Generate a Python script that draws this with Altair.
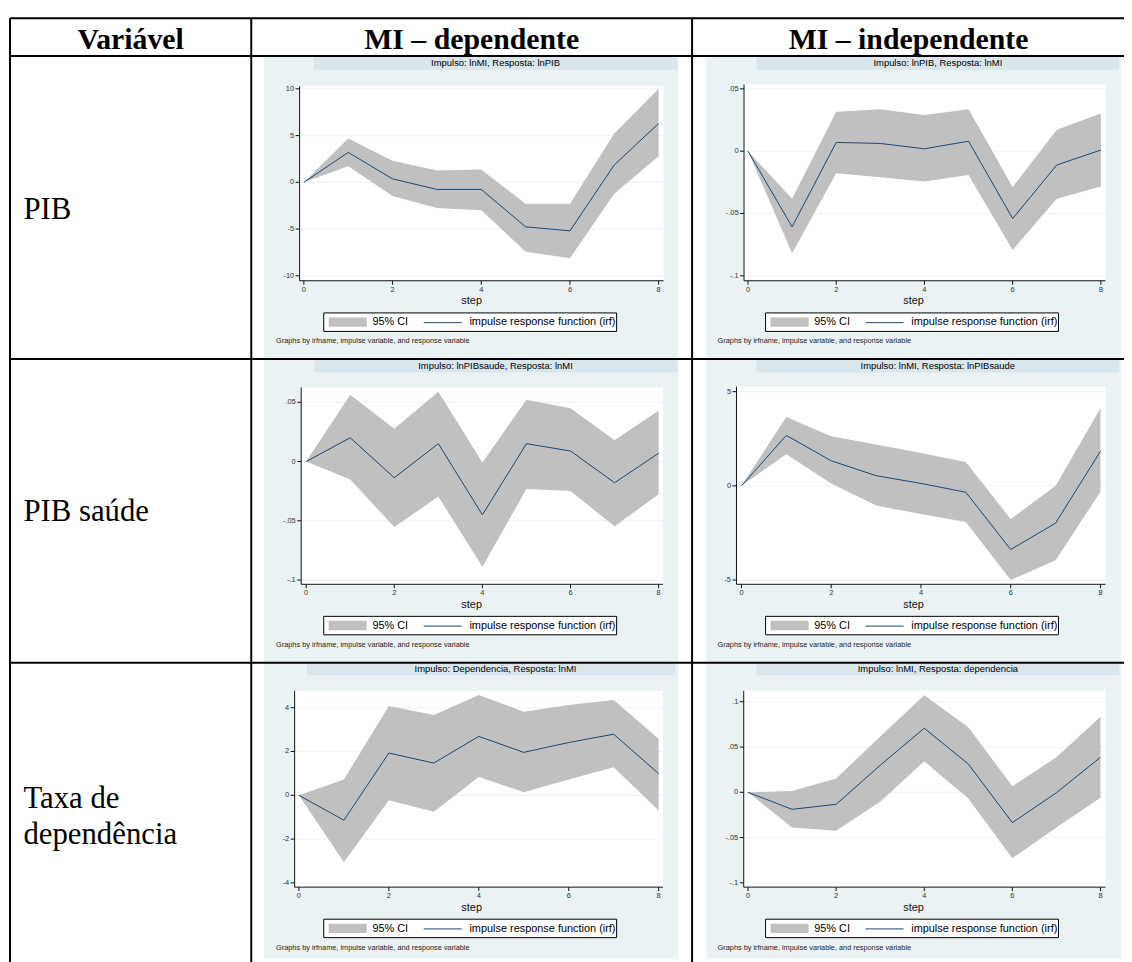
import altair as alt
import pandas as pd

# ---------------- data ----------------
STEPS = [0, 1, 2, 3, 4, 5, 6, 7, 8]

HEADERS = ["Variável", "MI – dependente", "MI – independente"]
ROW_LABELS = [["PIB"], ["PIB saúde"], ["Taxa de", "dependência"]]

TITLES = [
    "Impulso: lnMI, Resposta: lnPIB",
    "Impulso: lnPIB, Resposta: lnMI",
    "Impulso: lnPIBsaude, Resposta: lnMI",
    "Impulso: lnMI, Resposta: lnPIBsaude",
    "Impulso: Dependencia, Resposta: lnMI",
    "Impulso: lnMI, Resposta: dependencia",
]

# panel 1: lnMI -> lnPIB
P1_IRF = [0, 3.2, 0.37, -0.76, -0.76, -4.76, -5.19, 1.86, 6.3]
P1_HI = [0, 4.69, 2.32, 1.26, 1.36, -2.28, -2.28, 5.22, 10.0]
P1_LO = [0, 1.72, -1.47, -2.74, -2.99, -7.42, -8.12, -1.22, 2.78]
P1_TICKS = [-10, -5, 0, 5, 10]
P1_TICK_LABELS = ["-10", "-5", "0", "5", "10"]
# panel 2: lnPIB -> lnMI
P2_IRF = [0, -0.0607, 0.0070, 0.0062, 0.0019, 0.0080, -0.0541, -0.0111, 0.0009]
P2_HI = [0, -0.0382, 0.0317, 0.0336, 0.029, 0.0336, -0.0288, 0.0171, 0.0303]
P2_LO = [0, -0.082, -0.0177, -0.021, -0.0244, -0.0191, -0.0793, -0.0382, -0.0284]
P2_TICKS = [-0.1, -0.05, 0, 0.05]
P2_TICK_LABELS = ["-.1", "-.05", "0", ".05"]
# panel 3: lnPIBsaude -> lnMI
P3_IRF = [0, 0.0201, -0.0137, 0.0151, -0.045, 0.0151, 0.0089, -0.0179, 0.007]
P3_HI = [0, 0.0564, 0.0277, 0.0589, -0.0008, 0.0522, 0.045, 0.0179, 0.043]
P3_LO = [0, -0.0151, -0.0553, -0.0296, -0.0888, -0.0232, -0.0249, -0.0547, -0.0277]
P3_TICKS = [-0.1, -0.05, 0, 0.05]
P3_TICK_LABELS = ["-.1", "-.05", "0", ".05"]
# panel 4: lnMI -> lnPIBsaude
P4_IRF = [0, 2.68, 1.33, 0.54, 0.13, -0.34, -3.38, -1.98, 1.84]
P4_HI = [0, 3.65, 2.63, 2.19, 1.75, 1.27, -1.77, 0.01, 4.12]
P4_LO = [0, 1.68, 0.13, -1.05, -1.50, -1.92, -5.0, -3.95, -0.31]
P4_TICKS = [-5, 0, 5]
P4_TICK_LABELS = ["-5", "0", "5"]
# panel 5: Dependencia -> lnMI
P5_IRF = [0, -1.14, 1.93, 1.47, 2.69, 1.96, 2.41, 2.79, 0.99]
P5_HI = [0, 0.72, 4.08, 3.67, 4.58, 3.82, 4.12, 4.35, 2.58]
P5_LO = [0, -3.06, -0.23, -0.75, 0.84, 0.14, 0.72, 1.28, -0.69]
P5_TICKS = [-4, -2, 0, 2, 4]
P5_TICK_LABELS = ["-4", "-2", "0", "2", "4"]
# panel 6: lnMI -> dependencia
P6_IRF = [0, -0.0188, -0.0133, 0.0298, 0.0708, 0.0313, -0.0335, -0.0005, 0.0386]
P6_HI = [0, 0.0013, 0.0152, 0.0616, 0.1073, 0.0718, 0.0068, 0.0386, 0.0835]
P6_LO = [0, -0.0389, -0.0426, -0.0104, 0.0342, -0.0068, -0.0729, -0.0389, -0.006]
P6_TICKS = [-0.1, -0.05, 0, 0.05, 0.1]
P6_TICK_LABELS = ["-.1", "-.05", "0", ".05", ".1"]

X_TICKS = [0, 2, 4, 6, 8]
X_TICK_LABELS = ["0", "2", "4", "6", "8"]
X_TITLE = "step"
LEGEND_LABELS = ["95% CI", "impulse response function (irf)"]
NOTE = "Graphs by irfname, impulse variable, and response variable"

# ---------------- layout (page pixels) ----------------
W, H = 1124, 954
OFF = 8  # page margin


def v(p):
    return p - OFF


SANS = "Liberation Sans"
SERIF = "Liberation Serif"
BG = "#EAF2F3"
BAND = "#D9E6EB"
CI = "#C0C0C0"
NAVY = "#1A476F"
AXIS_C = "#111111"
LABEL_C = "#333333"

COL_BG = [(266, 683.3), (711, 1129)]
ROW_BG = [(54, 357), (359, 663), (665, 962)]
BANDS = {
    (0, 0): (316, 682, 54, 66.7), (0, 1): (762, 1127, 54, 66.7),
    (1, 0): (316.7, 682, 359, 371.7), (1, 1): (761.7, 1127.3, 359, 371.7),
    (2, 0): (309.3, 680, 665, 676.7), (2, 1): (761.7, 1127.3, 665, 676.7),
}
TITLE_X = [499, 944.5]
TITLE_Y = [59.5, 365, 670.7]
LEG_X = [326, 771]
LEG_Y = [311.7, 617.3, 922.3]
NOTE_X = [278, 722.7]
NOTE_Y = [340, 646, 951]
STEP_X = [475, 920]
STEP_Y = [300, 605.7, 910.7]
TICK_LEN = 4

# panel geometry: (x px of step 0, x px of step 8, (px, val), (px, val), (left, right, top, bottom))
PANELS = [
    (0, 0, P1_IRF, P1_HI, P1_LO, P1_TICKS, P1_TICK_LABELS, 306, 663.3, (86, 10), (274.3, -10), (301.7, 668.3, 83.3, 279.3)),
    (0, 1, P2_IRF, P2_HI, P2_LO, P2_TICKS, P2_TICK_LABELS, 753.3, 1108.7, (86, 0.05), (274.3, -0.1), (749.3, 1113.3, 81.7, 279.3)),
    (1, 0, P3_IRF, P3_HI, P3_LO, P3_TICKS, P3_TICK_LABELS, 308.3, 663.3, (401.7, 0.05), (580.7, -0.1), (303.3, 667.7, 386.7, 585)),
    (1, 1, P4_IRF, P4_HI, P4_LO, P4_TICKS, P4_TICK_LABELS, 746.7, 1108.3, (391, 5), (580.7, -5), (741.7, 1113.3, 386, 585)),
    (2, 0, P5_IRF, P5_HI, P5_LO, P5_TICKS, P5_TICK_LABELS, 301, 663.3, (709.3, 4), (885.7, -4), (296.7, 667.7, 692.3, 890)),
    (2, 1, P6_IRF, P6_HI, P6_LO, P6_TICKS, P6_TICK_LABELS, 753.3, 1108.3, (703.3, 0.1), (885.7, -0.1), (749, 1113.3, 692.3, 890)),
]

NX = dict(scale=None, axis=None)

# ---------------- decorations ----------------
bg_rows = []
for (x0, x1) in COL_BG:
    for (y0, y1) in ROW_BG:
        bg_rows.append(dict(x=v(x0), x2=v(x1), y=v(y0), y2=v(y1), fill=BG))
for (r, c), (x0, x1, y0, y1) in BANDS.items():
    bg_rows.append(dict(x=v(x0), x2=v(x1), y=v(y0), y2=v(y1), fill=BAND))
bg_df = pd.DataFrame(bg_rows)


def rect_layer(df, **mark):
    return alt.Chart(df).mark_rect(**mark).encode(
        x=alt.X("x:Q", **NX), x2="x2:Q",
        y=alt.Y("y:Q", **NX), y2="y2:Q",
    )


bg_layer = alt.Chart(bg_df).mark_rect().encode(
    x=alt.X("x:Q", **NX), x2="x2:Q",
    y=alt.Y("y:Q", **NX), y2="y2:Q",
    fill=alt.Fill("fill:N", scale=None),
)

box_rows, sw_rows, ls_rows, lt_rows = [], [], [], []
title_rows, note_rows, step_rows = [], [], []
for r in range(3):
    for c in range(2):
        bx, by = LEG_X[c], LEG_Y[r]
        box_rows.append(dict(x=v(bx), x2=v(bx + 295), y=v(by), y2=v(by + 18.6)))
        sw_rows.append(dict(x=v(bx + 5), x2=v(bx + 43.3), y=v(by + 4.5), y2=v(by + 14)))
        ls_rows.append(dict(x=v(bx + 100.7), x2=v(bx + 139), y=v(by + 9.8)))
        lt_rows.append(dict(x=v(bx + 49), y=v(by + 9.6), t=LEGEND_LABELS[0]))
        lt_rows.append(dict(x=v(bx + 146.7), y=v(by + 9.6), t=LEGEND_LABELS[1]))
        title_rows.append(dict(x=v(TITLE_X[c]), y=v(TITLE_Y[r]), t=TITLES[r * 2 + c]))
        note_rows.append(dict(x=v(NOTE_X[c]), y=v(NOTE_Y[r]), t=NOTE))
        step_rows.append(dict(x=v(STEP_X[c]), y=v(STEP_Y[r]), t=X_TITLE))

box_layer = rect_layer(pd.DataFrame(box_rows), fill="white", stroke="black", strokeWidth=1)
sw_layer = rect_layer(pd.DataFrame(sw_rows), fill=CI)
ls_layer = alt.Chart(pd.DataFrame(ls_rows)).mark_rule(color=NAVY, strokeWidth=1).encode(
    x=alt.X("x:Q", **NX), x2="x2:Q", y=alt.Y("y:Q", **NX)
)


def text_layer(df, **mark):
    return alt.Chart(df).mark_text(**mark).encode(
        x=alt.X("x:Q", **NX),
        y=alt.Y("y:Q", **NX),
        text="t:N",
    )


lt_layer = text_layer(pd.DataFrame(lt_rows), align="left", baseline="middle", font=SANS, fontSize=11, color="black")
title_layer = text_layer(pd.DataFrame(title_rows), align="center", baseline="middle", font=SANS, fontSize=9.5, color="black")
note_layer = text_layer(pd.DataFrame(note_rows), align="left", baseline="middle", font=SANS, fontSize=7.4, color="#222")
step_layer = text_layer(pd.DataFrame(step_rows), align="center", baseline="middle", font=SANS, fontSize=11, color="#111")

# table lines
line_rows = []
for y in [15, 53, 358, 664]:
    line_rows.append(dict(x=v(10), x2=v(1140), y=v(y), y2=v(y)))
for x in [10, 253, 697, 1133]:
    line_rows.append(dict(x=v(x), x2=v(x), y=v(15), y2=v(970)))
table_layer = alt.Chart(pd.DataFrame(line_rows)).mark_rule(color="black", strokeWidth=2).encode(
    x=alt.X("x:Q", **NX), x2="x2:Q",
    y=alt.Y("y:Q", **NX), y2="y2:Q",
)

head_df = pd.DataFrame([
    dict(x=v(131.5), y=v(45.5), t=HEADERS[0]),
    dict(x=v(475), y=v(45.5), t=HEADERS[1]),
    dict(x=v(915), y=v(45.5), t=HEADERS[2]),
])
head_layer = text_layer(head_df, align="center", baseline="alphabetic", font=SERIF, fontSize=30,
                        fontWeight="bold", color="black")

row_baselines = [[216.7], [521.7], [810.7, 846.7]]
rl_rows = []
for labels, ys in zip(ROW_LABELS, row_baselines):
    for t, y in zip(labels, ys):
        rl_rows.append(dict(x=v(23.5), y=v(y), t=t))
rl_layer = text_layer(pd.DataFrame(rl_rows), align="left", baseline="alphabetic", font=SERIF, fontSize=31,
                      color="black")


# ---------------- panels ----------------
def panel(r, c, irf, hi, lo, ticks, tick_labels, x0px, x8px, ya, yb, box):
    left, right, top, bottom = box
    kx = (x8px - x0px) / 8.0          # px per step
    xd = [(left - x0px) / kx, (right - x0px) / kx]
    (pa, va), (pb, vb) = ya, yb
    ky = (pb - pa) / (vb - va)        # px per unit (negative)
    yd = [va + (bottom - pa) / ky, va + (top - pa) / ky]
    xs = alt.Scale(domain=xd, range=[v(left), v(right)], nice=False, zero=False)
    ys = alt.Scale(domain=yd, range=[v(bottom), v(top)], nice=False, zero=False)

    def X(f):
        return alt.X(f, scale=xs, axis=None)

    def Y(f):
        return alt.Y(f, scale=ys, axis=None)

    df = pd.DataFrame({"step": STEPS, "irf": irf, "hi": hi, "lo": lo})
    frame = pd.DataFrame([dict(x0=xd[0], x1=xd[1], y0=yd[0], y1=yd[1])])
    yt = pd.DataFrame({"g": ticks, "lab": tick_labels, "x0": xd[0], "xt": xd[0] - TICK_LEN / kx,
                       "x1": xd[1]})
    xt = pd.DataFrame({"s": X_TICKS, "lab": X_TICK_LABELS, "y0": yd[0], "yt": yd[0] + TICK_LEN / ky})

    white = alt.Chart(frame).mark_rect(fill="white").encode(x=X("x0:Q"), x2="x1:Q", y=Y("y0:Q"), y2="y1:Q")
    gridl = alt.Chart(yt).mark_rule(color=BG, strokeWidth=1).encode(x=X("x0:Q"), x2="x1:Q", y=Y("g:Q"))
    band = alt.Chart(df).mark_area(color=CI, opacity=1).encode(x=X("step:Q"), y=Y("hi:Q"), y2="lo:Q")
    line = alt.Chart(df).mark_line(color=NAVY, strokeWidth=1).encode(x=X("step:Q"), y=Y("irf:Q"))
    # axes drawn through the panel scales
    ydom = alt.Chart(frame).mark_rule(color=AXIS_C, strokeWidth=1).encode(x=X("x0:Q"), y=Y("y0:Q"), y2="y1:Q")
    xdom = alt.Chart(frame).mark_rule(color=AXIS_C, strokeWidth=1).encode(x=X("x0:Q"), x2="x1:Q", y=Y("y0:Q"))
    ytick = alt.Chart(yt).mark_rule(color=AXIS_C, strokeWidth=1).encode(x=X("xt:Q"), x2="x0:Q", y=Y("g:Q"))
    xtick = alt.Chart(xt).mark_rule(color=AXIS_C, strokeWidth=1).encode(x=X("s:Q"), y=Y("yt:Q"), y2="y0:Q")
    ylab = alt.Chart(yt).mark_text(align="right", baseline="middle", dx=-(TICK_LEN + 1.5), font=SANS,
                                   fontSize=7.5, color=LABEL_C).encode(x=X("x0:Q"), y=Y("g:Q"), text="lab:N")
    xlab = alt.Chart(xt).mark_text(align="center", baseline="middle", dy=TICK_LEN + 5, font=SANS,
                                   fontSize=7.5, color=LABEL_C).encode(x=X("s:Q"), y=Y("y0:Q"), text="lab:N")
    return alt.layer(white, gridl, band, line, ydom, xdom, ytick, xtick, ylab, xlab)


panel_layers = [panel(*p) for p in PANELS]

chart = alt.layer(
    bg_layer, box_layer, sw_layer, ls_layer, lt_layer, title_layer, note_layer, step_layer,
    *panel_layers,
    table_layer, head_layer, rl_layer,
).resolve_scale(x="independent", y="independent").properties(
    width=W, height=H, padding=0, autosize="none", background="white"
).configure_view(stroke=None)

chart.save("out.html", embed_options={"renderer": "svg", "actions": False})
